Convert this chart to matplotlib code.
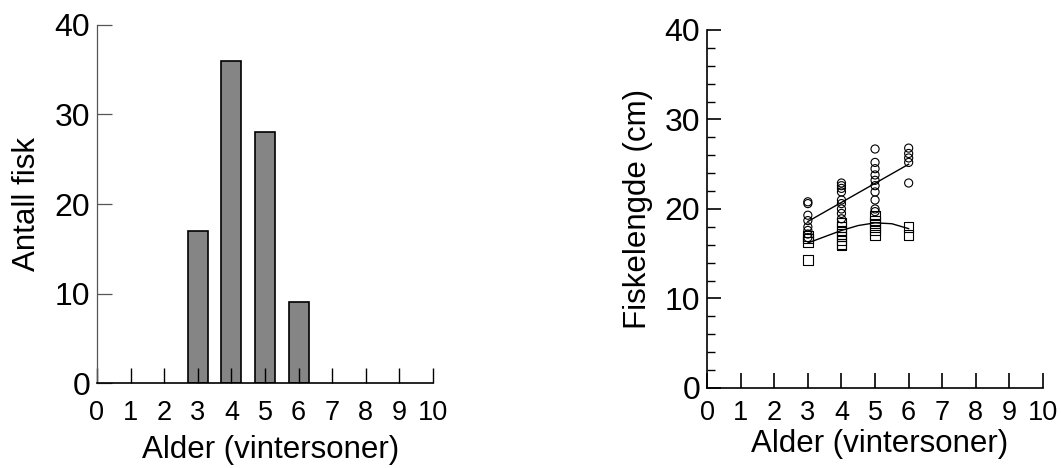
import numpy as np
import matplotlib.pyplot as plt

plt.rcParams["font.family"] = ["Liberation Sans", "DejaVu Sans"]

# venstre panel: aldersfordeling
ages = [3, 4, 5, 6]
counts = [17, 36, 28, 9]

# hoyre panel: lengde per alder
circ_age = [3] * 8 + [4] * 9 + [5] * 10 + [6] * 5
circ_len = [20.8, 20.6, 19.3, 18.7, 18.0, 17.6, 17.2, 16.8,
            22.9, 22.6, 22.3, 21.9, 21.0, 20.6, 20.0, 19.5, 18.9,
            26.7, 25.2, 24.5, 23.8, 23.2, 22.6, 21.9, 21.0, 20.0, 19.7,
            26.8, 26.2, 25.7, 25.2, 22.9]
sq_age = [3] * 4 + [4] * 8 + [5] * 6 + [6] * 2
sq_len = [17.0, 16.7, 16.3, 14.3,
          18.5, 18.0, 17.6, 17.2, 16.9, 16.5, 16.1, 15.9,
          19.3, 18.7, 18.4, 18.0, 17.6, 17.1,
          18.0, 17.1]

# tilpassede kurver (avlest)
line_x = [3, 6]
line_y = [18.6, 25.0]
curve_x = [3, 3.5, 4, 4.5, 5, 5.5, 6]
curve_y = [16.2, 16.9, 17.6, 18.15, 18.45, 18.35, 17.8]

fig = plt.figure(figsize=(10.61, 4.68), dpi=100)

# --- venstre ---
ax1 = fig.add_axes([0.0914, 0.1816, 0.3167, 0.765])
ax1.bar(ages, counts, width=0.6, color="#858585", edgecolor="black", linewidth=1.2)
ax1.set_xlim(0, 10)
ax1.set_ylim(0, 40)
ax1.spines["top"].set_visible(False)
ax1.spines["right"].set_visible(False)
ax1.spines["left"].set_color("#555555")
ax1.spines["left"].set_linewidth(0.9)
ax1.spines["bottom"].set_linewidth(1.2)
ax1.set_xticks(range(0, 11))
ax1.set_yticks(range(0, 41, 10))
ax1.tick_params(axis="x", direction="in", length=11, width=1, labelsize=19.5, pad=12)
ax1.tick_params(axis="y", direction="in", length=11, width=0.9, color="#555555",
                labelsize=23, pad=5)
ax1.set_xlabel("Alder (vintersoner)", fontsize=22.5)
ax1.set_ylabel("Antall fisk", fontsize=22.5)
ax1.xaxis.set_label_coords(0.516, -0.145)
ax1.yaxis.set_label_coords(-0.165, 0.5)

# --- hoyre ---
ax2 = fig.add_axes([0.6664, 0.171, 0.3167, 0.765])
ax2.scatter(circ_age, circ_len, s=34, marker="o", facecolors="none",
            edgecolors="black", linewidths=0.8, zorder=3)
ax2.scatter(sq_age, sq_len, s=46, marker="s", facecolors="none",
            edgecolors="black", linewidths=0.8, zorder=3)
ax2.plot(line_x, line_y, color="black", linewidth=1)
ax2.plot(curve_x, curve_y, color="black", linewidth=1)
ax2.set_xlim(0, 10)
ax2.set_ylim(0, 40)
ax2.spines["top"].set_visible(False)
ax2.spines["right"].set_visible(False)
ax2.spines["left"].set_linewidth(1.2)
ax2.spines["bottom"].set_linewidth(1.2)
ax2.set_xticks(range(0, 11))
ax2.set_yticks(range(0, 41, 10))
ax2.set_yticks(range(0, 41, 2), minor=True)
ax2.tick_params(axis="x", direction="in", length=11, width=1.2, labelsize=19.5, pad=9)
ax2.tick_params(axis="y", which="major", direction="in", length=10, width=1.2,
                labelsize=23, pad=5)
ax2.tick_params(axis="y", which="minor", direction="in", length=6, width=1)
ax2.set_xlabel("Alder (vintersoner)", fontsize=22.5)
ax2.set_ylabel("Fiskelengde (cm)", fontsize=22.5)
ax2.xaxis.set_label_coords(0.515, -0.115)
ax2.yaxis.set_label_coords(-0.16, 0.5)

fig.savefig("out.png", dpi=100)
